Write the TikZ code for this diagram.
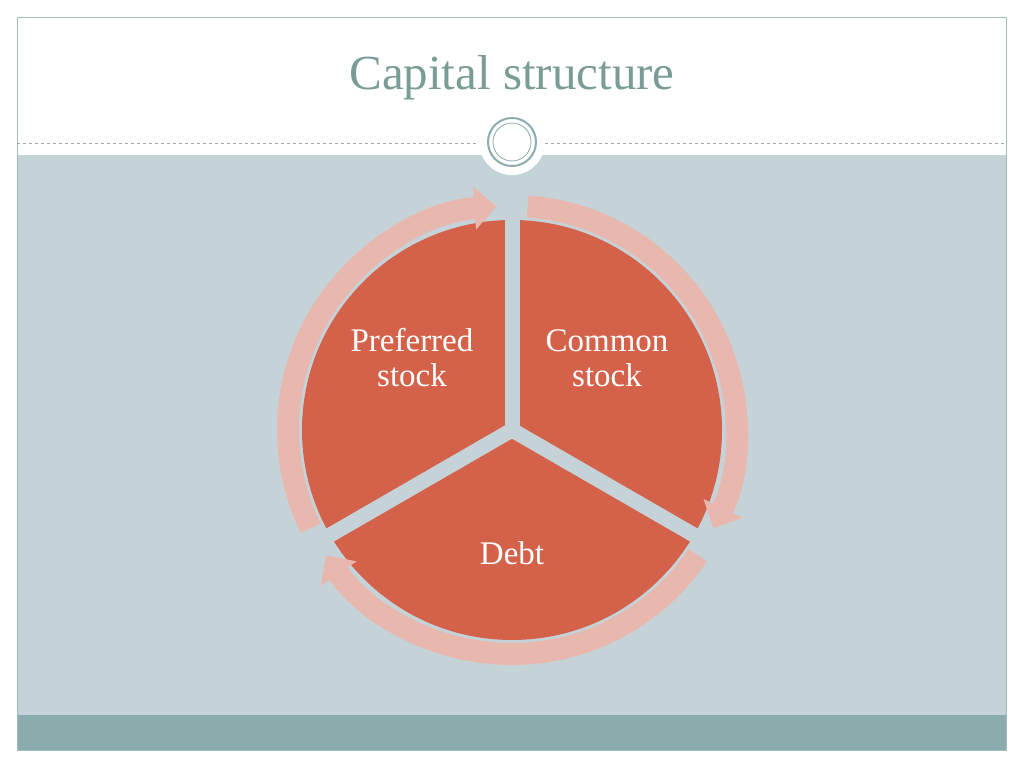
\documentclass[tikz,border=0pt]{standalone}
\usepackage{fontspec}
\setmainfont{Liberation Serif}
\usetikzlibrary{arrows.meta,positioning}
\definecolor{slate}{HTML}{C5D3D8}
\definecolor{teal}{HTML}{8AACAD}
\definecolor{slice}{HTML}{D4624A}
\definecolor{ringc}{HTML}{E8B8AF}
\definecolor{titlec}{HTML}{7A9C97}
\begin{document}
\begin{tikzpicture}
				[
					x=1pt, y=1pt,
					ringarrow/.style={draw=ringc, line width=22pt, -{Triangle[width=42pt,length=22pt]}},
					gapline/.style={draw=slate, line width=15pt},
					label/.style={text=white, font=\fontsize{33}{35}\selectfont, align=center},
				]
				\useasboundingbox (0,0) rectangle (1024,768);
				\fill[white] (0,0) rectangle (1024,768);
				% panels
				\fill[slate] (17,53) rectangle (1006,613);
				\fill[teal] (17,18) rectangle (1006,53);
				\draw[teal!80, line width=0.8pt] (17,18) rectangle (1006,751);
				\draw[gray!70, dashed, line width=0.6pt] (17,625) -- (1006,625);
				\node[text=titlec, font=\fontsize{49}{51}\selectfont] (title) at (512,690) {Capital structure};
				% ornament
				\fill[white] (512,626) circle (33);
				\draw[teal, line width=2pt, fill=white] (512,626) circle (24);
				\draw[teal, line width=0.8pt] (512,626) circle (19);
				% pie
				\coordinate (c) at (512,338);
				\fill[slice] (c) circle (210);
				\foreach \a in {90,210,330}
					\draw[gapline] (c) -- ++(\a:250);
				% ring arrows
				\draw[ringarrow] ([shift={(206:224)}]c) arc (206:94:224);
				\draw[ringarrow] ([shift={(86:224)}]c) arc (86:-26:224);
				\draw[ringarrow] ([shift={(-34:224)}]c) arc (-34:-146:224);
				% labels
				\node[label] (pref) at (412,410) {Preferred\\stock};
				\node[label] (common) at (607,410) {Common\\stock};
				\node[label] (debt) at (512,215) {Debt};
			\end{tikzpicture}
\end{document}
